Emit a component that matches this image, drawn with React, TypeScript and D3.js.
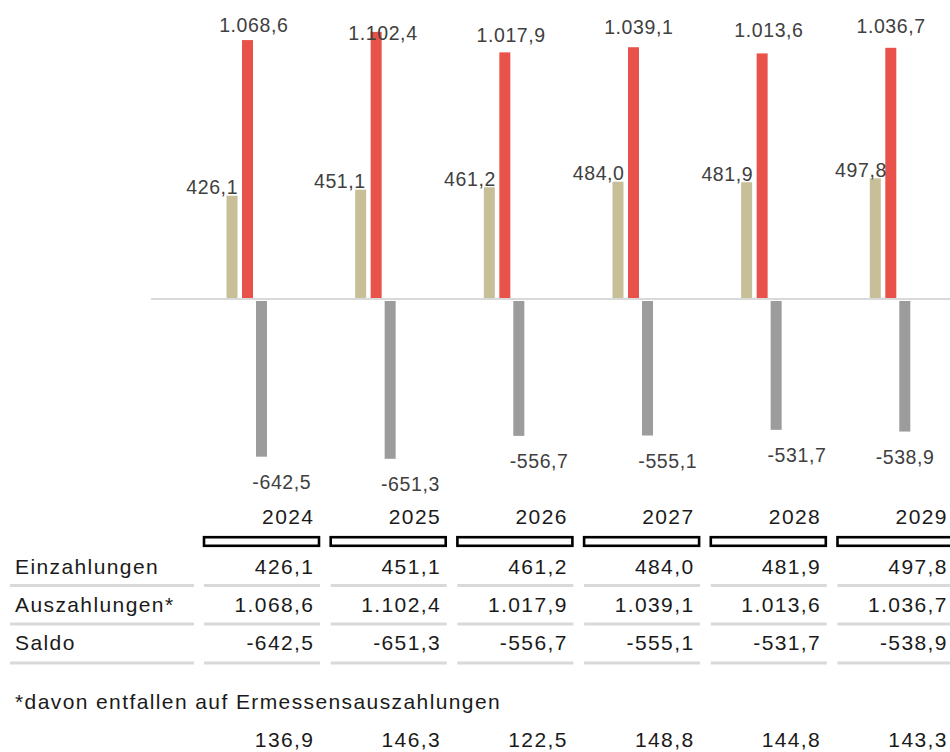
import React from "react";
import * as d3 from "d3";

const years = ["2024", "2025", "2026", "2027", "2028", "2029"];
const einzahlungen = [426.1, 451.1, 461.2, 484.0, 481.9, 497.8];
const auszahlungen = [1068.6, 1102.4, 1017.9, 1039.1, 1013.6, 1036.7];
const saldo = [-642.5, -651.3, -556.7, -555.1, -531.7, -538.9];
const ermessen = [136.9, 146.3, 122.5, 148.8, 144.8, 143.3];
const rowLabels = ["Einzahlungen", "Auszahlungen*", "Saldo"];
const footnote = "*davon entfallen auf Ermessensauszahlungen";

// label nudges (style only)
const redLabelDy = [-8.4, 8, -10.7, -13.2, -16.7, -14.5];
const redLabelDx = [6, 6.5, 6, 5, 6.5, 0];
const tanLabelDx = [0, -1, 0.5, 0.5, 0.5, 5.5];
const grayLabelDx = [20, 20, 20, 20, 20.5, 0];

const W = 950;
const H = 752;
const FONT = "'Liberation Sans', Arial, Helvetica, sans-serif";

const locale = d3.formatLocale({
  decimal: ",",
  thousands: ".",
  grouping: [3],
  currency: ["", "€"],
  minus: "-",
});
const fmt = locale.format(",.1f");

const COL_TAN = "#c7bf98";
const COL_RED = "#e8524a";
const COL_GRAY = "#9c9c9c";
const COL_LINE = "#d9d9d9";

const LBL_LS = 0.6;
const TBL_LS = 1.4;

export default function App() {
  const x = d3.scalePoint<string>().domain(years).range([242, 242 + 128.66 * 5]);
  const y = d3.scaleLinear().domain([0, 1000]).range([299, 299 - 242.3]);
  const colRight = d3.scalePoint<string>().domain(years).range([313, 946.5]);
  const bw = 11;
  const zero = y(0);

  const labelStyle = { fontFamily: FONT, fontSize: 19.5, letterSpacing: LBL_LS, fill: "#404040" } as const;
  const tableStyle = { fontFamily: FONT, fontSize: 21, letterSpacing: TBL_LS, fill: "#1a1a1a" } as const;

  const rows = [einzahlungen, auszahlungen, saldo];
  const rowBase = [574, 612, 650];
  const lineY = [585.5, 624, 663];

  return (
    <div style={{ position: "absolute", left: 0, top: 0 }}>
      <svg width={W} height={H} style={{ display: "block", background: "#fff" }}>
        <line x1={151} x2={950} y1={zero} y2={zero} stroke={COL_LINE} strokeWidth={2} />

        {years.map((yr, i) => {
          const gx = x(yr)!;
          const tanX = gx - 15.5;
          const redX = gx;
          const grayX = gx + 14;
          const tanTop = y(einzahlungen[i]);
          const redTop = y(auszahlungen[i]);
          const grayH = Math.abs(y(saldo[i]) - zero);
          const grayBottom = zero + 2 + grayH;
          return (
            <g key={yr}>
              <rect x={tanX} y={tanTop} width={bw} height={zero - 1 - tanTop} fill={COL_TAN} />
              <rect x={redX} y={redTop} width={bw} height={zero - 1 - redTop} fill={COL_RED} />
              <rect x={grayX} y={zero + 2} width={bw} height={grayH} fill={COL_GRAY} />
              <text
                x={tanX + bw + tanLabelDx[i] + LBL_LS}
                y={tanTop - 1.5}
                textAnchor="end"
                style={labelStyle}
              >
                {fmt(einzahlungen[i])}
              </text>
              <text
                x={redX + bw / 2 + redLabelDx[i] + LBL_LS / 2}
                y={redTop + redLabelDy[i]}
                textAnchor="middle"
                style={labelStyle}
              >
                {fmt(auszahlungen[i])}
              </text>
              <text
                x={grayX + bw / 2 + grayLabelDx[i] + LBL_LS / 2}
                y={grayBottom + 32}
                textAnchor="middle"
                style={labelStyle}
              >
                {fmt(saldo[i])}
              </text>
            </g>
          );
        })}

        {years.map((yr) => {
          const r = colRight(yr)!;
          return (
            <g key={"h" + yr}>
              <text x={r + TBL_LS} y={524} textAnchor="end" style={tableStyle}>
                {yr}
              </text>
              <rect
                x={r - 109}
                y={537.2}
                width={115}
                height={8.6}
                fill="#fff"
                stroke="#000"
                strokeWidth={2.6}
              />
            </g>
          );
        })}

        {rows.map((vals, ri) => (
          <g key={"r" + ri}>
            <text x={15} y={rowBase[ri]} style={tableStyle}>
              {rowLabels[ri]}
            </text>
            {years.map((yr, i) => (
              <text key={yr} x={colRight(yr)! + TBL_LS} y={rowBase[ri]} textAnchor="end" style={tableStyle}>
                {fmt(vals[i])}
              </text>
            ))}
            <line x1={10} x2={194} y1={lineY[ri]} y2={lineY[ri]} stroke={COL_LINE} strokeWidth={3} />
            {years.map((yr) => {
              const r = colRight(yr)!;
              return (
                <line
                  key={"l" + yr}
                  x1={r - 109}
                  x2={Math.min(r + 7, 950)}
                  y1={lineY[ri]}
                  y2={lineY[ri]}
                  stroke={COL_LINE}
                  strokeWidth={3}
                />
              );
            })}
          </g>
        ))}

        <text x={15} y={709} style={tableStyle}>
          {footnote}
        </text>
        {years.map((yr, i) => (
          <text key={"e" + yr} x={colRight(yr)! + TBL_LS} y={747} textAnchor="end" style={tableStyle}>
            {fmt(ermessen[i])}
          </text>
        ))}
      </svg>
    </div>
  );
}
